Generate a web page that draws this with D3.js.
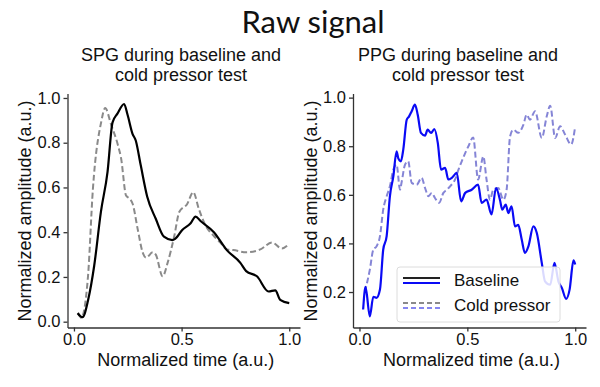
<!DOCTYPE html>
<html>
	<head>
		<title>Raw signal</title>
		<style>
* {
	margin: 0;
	padding: 0;
}
body {
	background-color: white;
	width: 600px;
	height: 387px;
	overflow: hidden;
}
svg {
	display: block;
}
text {
	font-family: "Liberation Sans", Arial, sans-serif;
	fill: #111;
}
.title {
	font-family: Lato, "Open Sans", sans-serif;
}
.axis path,
.axis line {
	stroke: #333;
	stroke-width: 1.3;
}
		</style>
	</head>
	<body>
		<div id="chart"></div>
		<script src="https://cdn.jsdelivr.net/npm/d3@7"></script>
		<script>

// SPG panel
var spgBaseTime = [ 0.017, 0.04, 0.066, 0.094, 0.125, 0.156, 0.179, 0.202, 0.233, 0.249, 0.272, 0.287, 0.31, 0.34, 0.38, 0.418, 0.457, 0.47, 0.503, 0.542, 0.565, 0.588, 0.65, 0.71, 0.773, 0.80, 0.85, 0.904, 0.935, 0.958, 1.0 ];
var spgBaseValue = [ 0.038, 0.02, 0.098, 0.25, 0.49, 0.67, 0.89, 0.93, 0.973, 0.925, 0.84, 0.81, 0.70, 0.56, 0.46, 0.38, 0.365, 0.37, 0.41, 0.44, 0.47, 0.45, 0.40, 0.32, 0.263, 0.226, 0.203, 0.135, 0.14, 0.098, 0.083 ];
var spgColdTime = [ 0.019, 0.034, 0.065, 0.088, 0.127, 0.145, 0.173, 0.204, 0.219, 0.242, 0.258, 0.273, 0.296, 0.319, 0.335, 0.366, 0.38, 0.412, 0.435, 0.466, 0.489, 0.526, 0.554, 0.58, 0.611, 0.65, 0.68, 0.711, 0.74, 0.80, 0.866, 0.92, 0.966, 0.997 ];
var spgColdValue = [ 0.04, 0.018, 0.2, 0.593, 0.895, 0.955, 0.88, 0.79, 0.73, 0.564, 0.55, 0.526, 0.414, 0.31, 0.286, 0.31, 0.30, 0.203, 0.263, 0.383, 0.49, 0.526, 0.579, 0.504, 0.43, 0.383, 0.354, 0.323, 0.32, 0.31, 0.323, 0.354, 0.327, 0.345 ];

// PPG panel
var ppgBaseTime = [ 0.017, 0.028, 0.048, 0.064, 0.079, 0.095, 0.11, 0.126, 0.141, 0.157, 0.172, 0.18, 0.192, 0.203, 0.219, 0.23, 0.242, 0.257, 0.27, 0.285, 0.304, 0.316, 0.332, 0.347, 0.363, 0.378, 0.397, 0.412, 0.428, 0.451, 0.471, 0.49, 0.52, 0.55, 0.566, 0.589, 0.612, 0.633, 0.651, 0.662, 0.678, 0.69, 0.705, 0.721, 0.736, 0.752, 0.767, 0.783, 0.806, 0.822, 0.845, 0.86, 0.884, 0.904, 0.922, 0.938, 0.958, 0.974, 0.992, 1.0 ];
var ppgBaseValue = [ 0.128, 0.221, 0.10, 0.18, 0.176, 0.21, 0.374, 0.43, 0.594, 0.676, 0.779, 0.75, 0.738, 0.786, 0.909, 0.923, 0.944, 0.971, 0.93, 0.855, 0.844, 0.868, 0.855, 0.871, 0.814, 0.704, 0.711, 0.663, 0.67, 0.69, 0.573, 0.608, 0.621, 0.642, 0.567, 0.58, 0.519, 0.628, 0.58, 0.539, 0.56, 0.525, 0.553, 0.47, 0.476, 0.416, 0.361, 0.388, 0.47, 0.443, 0.32, 0.244, 0.23, 0.32, 0.244, 0.217, 0.172, 0.21, 0.33, 0.313 ];
var ppgColdTime = [ 0.025, 0.048, 0.064, 0.079, 0.095, 0.11, 0.126, 0.141, 0.157, 0.172, 0.188, 0.195, 0.211, 0.226, 0.242, 0.265, 0.288, 0.304, 0.32, 0.335, 0.35, 0.369, 0.389, 0.405, 0.42, 0.443, 0.459, 0.474, 0.49, 0.505, 0.527, 0.55, 0.574, 0.589, 0.605, 0.62, 0.643, 0.667, 0.682, 0.698, 0.713, 0.736, 0.76, 0.775, 0.79, 0.814, 0.845, 0.868, 0.884, 0.907, 0.93, 0.953, 0.981, 1.0 ];
var ppgColdValue = [ 0.2, 0.292, 0.374, 0.388, 0.43, 0.539, 0.594, 0.635, 0.704, 0.724, 0.621, 0.65, 0.724, 0.738, 0.649, 0.642, 0.67, 0.628, 0.594, 0.608, 0.587, 0.567, 0.608, 0.621, 0.635, 0.663, 0.704, 0.738, 0.772, 0.80, 0.836, 0.663, 0.758, 0.663, 0.58, 0.621, 0.628, 0.58, 0.621, 0.84, 0.868, 0.855, 0.889, 0.93, 0.909, 0.944, 0.834, 0.923, 0.967, 0.834, 0.882, 0.848, 0.807, 0.882 ];

var xTicks = [ 0, 0.5, 1 ];
var spgYTicks = [ 0, 0.2, 0.4, 0.6, 0.8, 1.0 ];
var ppgYTicks = [ 0.2, 0.4, 0.6, 0.8, 1.0 ];
var legendLabels = [ 'Baseline', 'Cold pressor' ];

var svg = d3.select( '#chart' ).append( 'svg' )
	.attr( 'width', 600 )
	.attr( 'height', 387 );

svg.append( 'text' )
	.attr( 'class', 'title' )
	.attr( 'x', 313 )
	.attr( 'y', 33 )
	.attr( 'text-anchor', 'middle' )
	.style( 'font-size', '31px' )
	.text( 'Raw signal' );

function zip( ts, vs ) {
	return ts.map( function ( t, i ) { return [ t, vs[i] ]; } );
}

function panel( opts ) {
	var x = d3.scaleLinear().domain( [ -0.03, 1.05 ] ).range( opts.xRange );
	var y = d3.scaleLinear().domain( opts.yDomain ).range( [ 327.5, 93.5 ] );

	var g = svg.append( 'g' );

	g.append( 'g' )
		.attr( 'class', 'axis' )
		.attr( 'transform', 'translate(0,327.5)' )
		.call( d3.axisBottom( x ).tickValues( xTicks ).tickFormat( d3.format( '.1f' ) ).tickSize( 4 ).tickSizeOuter( 0 ).tickPadding( 2 ) )
		.selectAll( 'text' )
		.style( 'font-size', '16.5px' )
		.attr( 'fill', '#111' );

	g.append( 'g' )
		.attr( 'class', 'axis' )
		.attr( 'transform', 'translate(' + opts.xRange[0] + ',0)' )
		.call( d3.axisLeft( y ).tickValues( opts.yTicks ).tickFormat( d3.format( '.1f' ) ).tickSize( 4 ).tickSizeOuter( 0 ).tickPadding( 3 ) )
		.selectAll( 'text' )
		.style( 'font-size', '16.5px' )
		.attr( 'fill', '#111' );

	var line = d3.line()
		.x( function ( d ) { return x( d[0] ); } )
		.y( function ( d ) { return y( d[1] ); } )
		.curve( d3.curveMonotoneX );

	g.append( 'path' )
		.attr( 'class', 'signal' )
		.datum( zip( opts.coldTime, opts.coldValue ) )
		.attr( 'd', line )
		.attr( 'fill', 'none' )
		.attr( 'stroke', opts.coldColor )
		.attr( 'stroke-width', 2 )
		.attr( 'stroke-dasharray', '6,3' );

	g.append( 'path' )
		.attr( 'class', 'signal' )
		.datum( zip( opts.baseTime, opts.baseValue ) )
		.attr( 'd', line )
		.attr( 'fill', 'none' )
		.attr( 'stroke', opts.baseColor )
		.attr( 'stroke-width', 2.2 )
		.attr( 'stroke-linejoin', 'round' );

	var sub = g.append( 'text' )
		.attr( 'text-anchor', 'middle' )
		.style( 'font-size', '18px' );
	sub.append( 'tspan' ).attr( 'x', opts.subX ).attr( 'y', 61 ).text( opts.name + ' during baseline and' );
	sub.append( 'tspan' ).attr( 'x', opts.subX ).attr( 'y', 81 ).text( 'cold pressor test' );

	g.append( 'text' )
		.attr( 'x', ( opts.xRange[0] + opts.xRange[1] ) / 2 + 2 )
		.attr( 'y', 365.5 )
		.attr( 'text-anchor', 'middle' )
		.style( 'font-size', '18px' )
		.text( 'Normalized time (a.u.)' );

	g.append( 'text' )
		.attr( 'transform', 'translate(' + opts.yLabelX + ',211) rotate(-90)' )
		.attr( 'text-anchor', 'middle' )
		.attr( 'dy', '0.35em' )
		.style( 'font-size', '18px' )
		.text( 'Normalized amplitude (a.u.)' );

	return g;
}

panel( {
	name: 'SPG',
	xRange: [ 67.5, 300 ],
	yDomain: [ -0.026, 1.02 ],
	yTicks: spgYTicks,
	baseTime: spgBaseTime, baseValue: spgBaseValue,
	coldTime: spgColdTime, coldValue: spgColdValue,
	baseColor: '#000', coldColor: '#8a8a8a',
	subX: 181, yLabelX: 25
} );

panel( {
	name: 'PPG',
	xRange: [ 353, 586 ],
	yDomain: [ 0.054, 1.017 ],
	yTicks: ppgYTicks,
	baseTime: ppgBaseTime, baseValue: ppgBaseValue,
	coldTime: ppgColdTime, coldValue: ppgColdValue,
	baseColor: '#0a0af5', coldColor: '#8585d6',
	subX: 458, yLabelX: 311
} );

// legend
var legend = svg.append( 'g' ).attr( 'transform', 'translate(397,267)' );
legend.append( 'rect' )
	.attr( 'width', 163 )
	.attr( 'height', 55 )
	.attr( 'rx', 3 )
	.attr( 'fill', 'white' )
	.attr( 'fill-opacity', 0.85 )
	.attr( 'stroke', '#dcdcdc' );

var handles = [
	[ { c: '#222', dy: -2.5, dash: null }, { c: '#0a0af5', dy: 2.5, dash: null } ],
	[ { c: '#8a8a8a', dy: -2.5, dash: '5,3' }, { c: '#8585f0', dy: 2.5, dash: '5,3' } ]
];

legend.selectAll( 'g.entry' )
	.data( legendLabels )
	.enter()
	.append( 'g' )
	.attr( 'class', 'entry' )
	.attr( 'transform', function ( d, i ) { return 'translate(0,' + ( 13.5 + i * 25 ) + ')'; } )
	.each( function ( d, i ) {
		var e = d3.select( this );
		handles[i].forEach( function ( h ) {
			e.append( 'line' )
				.attr( 'x1', 6 ).attr( 'x2', 43 )
				.attr( 'y1', h.dy ).attr( 'y2', h.dy )
				.attr( 'stroke', h.c )
				.attr( 'stroke-width', 2 )
				.attr( 'stroke-dasharray', h.dash );
		} );
		e.append( 'text' )
			.attr( 'x', 57 )
			.attr( 'y', 0 )
			.attr( 'dy', '0.35em' )
			.style( 'font-size', '17px' )
			.text( d );
	} );

// the signal lines show through the legend box in the original
svg.selectAll( 'path.signal' ).raise();

		</script>
	</body>
</html>
